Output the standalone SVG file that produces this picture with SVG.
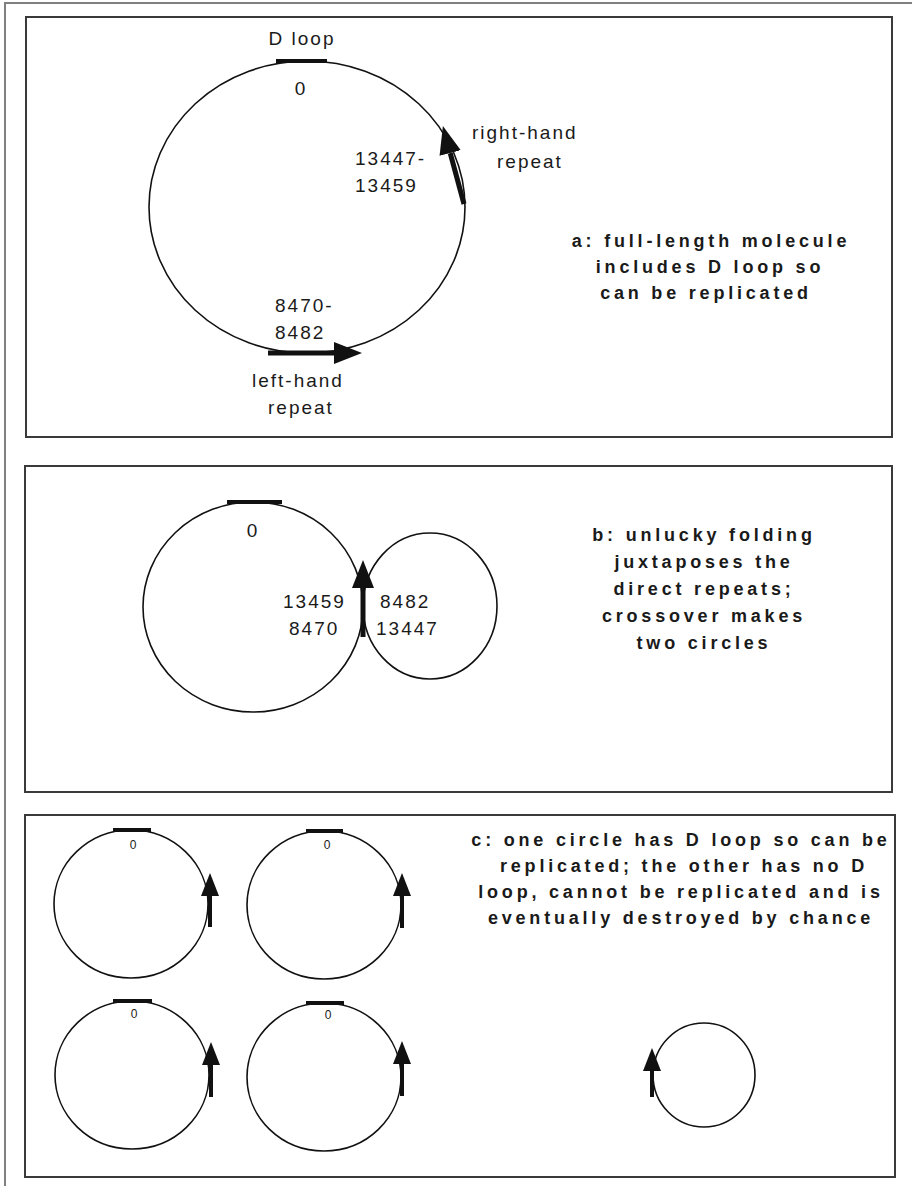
<svg xmlns="http://www.w3.org/2000/svg" width="912" height="1186" viewBox="0 0 912 1186">
  <style>
    .frame { fill: none; stroke: #808080; stroke-width: 2; }
    .panel { fill: #ffffff; stroke: #3a3a3a; stroke-width: 2; }
    .dna { fill: none; stroke: #111; stroke-width: 1.6; }
    .dloop { stroke: #111; stroke-width: 4; }
    .shaft { stroke: #111; stroke-width: 5; fill: none; }
    .shaft-s { stroke: #111; stroke-width: 4; fill: none; }
    .lbl { font-family: "Liberation Sans", Arial, sans-serif; font-size: 19px; letter-spacing: 2px; fill: #1a1a1a; }
    .lbl-s { font-family: "Liberation Sans", Arial, sans-serif; font-size: 12px; fill: #1a1a1a; }
    .cap { font-family: "Liberation Sans", Arial, sans-serif; font-size: 18px; font-weight: bold; letter-spacing: 3.8px; fill: #1a1a1a; text-anchor: middle; }
    .mid { text-anchor: middle; }
  </style>
  <defs>
    <marker id="head" markerUnits="userSpaceOnUse" viewBox="0 0 28 22" markerWidth="28" markerHeight="22" refX="0" refY="11" orient="auto">
      <path d="M0,0 L28,11 L0,22 Z" fill="#111"/>
    </marker>
    <marker id="head-s" markerUnits="userSpaceOnUse" viewBox="0 0 23 18" markerWidth="23" markerHeight="18" refX="0" refY="9" orient="auto">
      <path d="M0,0 L23,9 L0,18 Z" fill="#111"/>
    </marker>
  </defs>

  <rect width="912" height="1186" fill="#ffffff"/>
  <rect class="frame" x="5" y="3" width="930" height="1210"/>

  <!-- panel a: full-length molecule -->
  <g id="panel-a">
    <rect class="panel" x="26" y="17" width="866" height="420"/>
    <g id="a-molecule">
      <ellipse class="dna" cx="307" cy="207" rx="158" ry="146"/>
      <line class="dloop" x1="276" y1="61" x2="327" y2="61"/>
      <text class="lbl mid" x="302" y="45">D loop</text>
      <text class="lbl mid" x="301" y="95">0</text>
    </g>
    <g id="a-right-repeat">
      <text class="lbl" x="472" y="139">right-hand</text>
      <text class="lbl" x="497" y="168">repeat</text>
      <text class="lbl" x="355" y="165">13447-</text>
      <text class="lbl" x="355" y="192">13459</text>
    </g>
    <g id="a-left-repeat">
      <text class="lbl" x="275" y="312">8470-</text>
      <text class="lbl" x="275" y="339">8482</text>
      <text class="lbl" x="252" y="387">left-hand</text>
      <text class="lbl" x="268" y="414">repeat</text>
    </g>
    <g id="a-caption">
      <text class="cap" x="711" y="247">a: full-length molecule</text>
      <text class="cap" x="710" y="273">includes D loop so</text>
      <text class="cap" x="706" y="299">can be replicated</text>
    </g>
  </g>

  <!-- panel b: folding and crossover -->
  <g id="panel-b">
    <rect class="panel" x="25" y="466" width="867" height="326"/>
    <g id="b-large-circle">
      <ellipse class="dna" cx="253" cy="607" rx="110" ry="105"/>
      <line class="dloop" x1="227" y1="502" x2="282" y2="502"/>
      <text class="lbl mid" x="253" y="537">0</text>
      <text class="lbl" x="283" y="608">13459</text>
      <text class="lbl" x="289" y="635">8470</text>
    </g>
    <g id="b-small-circle">
      <ellipse class="dna" cx="430" cy="606" rx="67" ry="73"/>
      <text class="lbl" x="380" y="608">8482</text>
      <text class="lbl" x="376" y="635">13447</text>
    </g>
    <g id="b-caption">
      <text class="cap" x="704" y="541">b: unlucky folding</text>
      <text class="cap" x="704" y="568">juxtaposes the</text>
      <text class="cap" x="704" y="595">direct repeats;</text>
      <text class="cap" x="704" y="622">crossover makes</text>
      <text class="cap" x="704" y="649">two circles</text>
    </g>
  </g>

  <!-- panel c: the two products -->
  <g id="panel-c">
    <rect class="panel" x="25" y="815" width="870" height="362"/>
    <g id="c-circle-1">
      <ellipse class="dna" cx="131" cy="904" rx="77" ry="74"/>
      <line class="dloop" x1="113" y1="830" x2="151" y2="830"/>
      <text class="lbl-s mid" x="133" y="849">0</text>
    </g>
    <g id="c-circle-2">
      <ellipse class="dna" cx="324" cy="905" rx="77" ry="74"/>
      <line class="dloop" x1="306" y1="831" x2="343" y2="831"/>
      <text class="lbl-s mid" x="327" y="849">0</text>
    </g>
    <g id="c-circle-3">
      <ellipse class="dna" cx="132" cy="1075" rx="77" ry="74"/>
      <line class="dloop" x1="113" y1="1001" x2="152" y2="1001"/>
      <text class="lbl-s mid" x="134" y="1018">0</text>
    </g>
    <g id="c-circle-4">
      <ellipse class="dna" cx="324" cy="1077" rx="77" ry="74"/>
      <line class="dloop" x1="306" y1="1003" x2="344" y2="1003"/>
      <text class="lbl-s mid" x="328" y="1019">0</text>
    </g>
    <g id="c-circle-5">
      <ellipse class="dna" cx="704" cy="1075" rx="51" ry="52"/>
    </g>
    <g id="c-caption">
      <text class="cap" x="681" y="846">c: one circle has D loop so can be</text>
      <text class="cap" x="684" y="872">replicated; the other has no D</text>
      <text class="cap" x="681" y="898">loop, cannot be replicated and is</text>
      <text class="cap" x="681" y="924">eventually destroyed by chance</text>
    </g>
  </g>

  <!-- direct-repeat arrows laid on the circles -->
  <g id="connectors">
    <line class="shaft" x1="464" y1="204" x2="450.2" y2="153" marker-end="url(#head)"/>
    <line class="shaft" x1="268" y1="353" x2="334" y2="353" marker-end="url(#head)"/>
    <line class="shaft" x1="363" y1="637" x2="363" y2="588" marker-end="url(#head)"/>
    <line class="shaft-s" x1="210" y1="927" x2="210" y2="896" marker-end="url(#head-s)"/>
    <line class="shaft-s" x1="402" y1="928" x2="402" y2="896" marker-end="url(#head-s)"/>
    <line class="shaft-s" x1="211" y1="1097" x2="211" y2="1065" marker-end="url(#head-s)"/>
    <line class="shaft-s" x1="402" y1="1096" x2="402" y2="1064" marker-end="url(#head-s)"/>
    <line class="shaft-s" x1="652" y1="1097" x2="652" y2="1071" marker-end="url(#head-s)"/>
  </g>
</svg>
